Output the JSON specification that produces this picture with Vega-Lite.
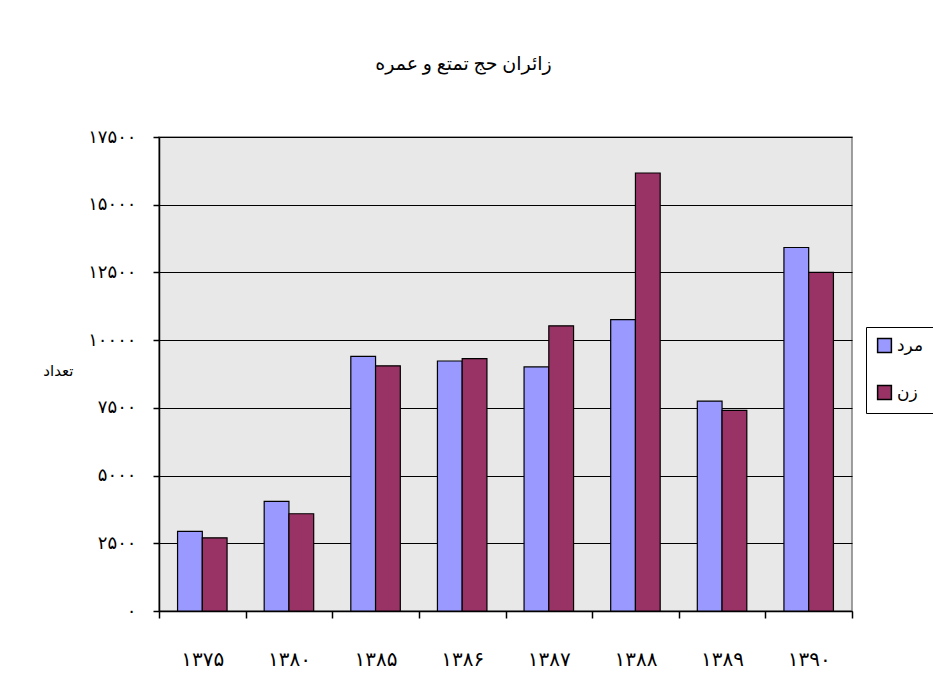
{
  "$schema": "https://vega.github.io/schema/vega-lite/v6.json",
  "autosize": "none",
  "width": 693,
  "height": 474,
  "padding": {"left": 159, "top": 137, "right": 81, "bottom": 78},
  "background": "white",
  "title": {
    "text": "زائران حج تمتع و عمره",
    "font": "Liberation Serif, DejaVu Sans",
    "fontSize": 19,
    "fontWeight": "normal",
    "color": "black",
    "anchor": "middle",
    "dx": -42,
    "offset": 54
  },
  "data": {
    "values": [
      {"year": "۱۳۷۵", "sex": "مرد", "count": 2940},
      {"year": "۱۳۷۵", "sex": "زن", "count": 2700},
      {"year": "۱۳۸۰", "sex": "مرد", "count": 4050},
      {"year": "۱۳۸۰", "sex": "زن", "count": 3590},
      {"year": "۱۳۸۵", "sex": "مرد", "count": 9400},
      {"year": "۱۳۸۵", "sex": "زن", "count": 9050},
      {"year": "۱۳۸۶", "sex": "مرد", "count": 9230},
      {"year": "۱۳۸۶", "sex": "زن", "count": 9320},
      {"year": "۱۳۸۷", "sex": "مرد", "count": 9010},
      {"year": "۱۳۸۷", "sex": "زن", "count": 10530},
      {"year": "۱۳۸۸", "sex": "مرد", "count": 10760},
      {"year": "۱۳۸۸", "sex": "زن", "count": 16170},
      {"year": "۱۳۸۹", "sex": "مرد", "count": 7750},
      {"year": "۱۳۸۹", "sex": "زن", "count": 7410},
      {"year": "۱۳۹۰", "sex": "مرد", "count": 13420},
      {"year": "۱۳۹۰", "sex": "زن", "count": 12500}
    ]
  },
  "mark": {"type": "bar", "stroke": "black", "strokeWidth": 1.2},
  "encoding": {
    "x": {
      "field": "year",
      "type": "nominal",
      "sort": null,
      "scale": {"paddingInner": 0, "paddingOuter": 0},
      "axis": {
        "title": null,
        "labelAngle": 0,
        "labelFont": "Liberation Serif, DejaVu Sans",
        "labelFontSize": 20,
        "labelFontWeight": "normal",
        "labelColor": "black",
        "labelPadding": 31,
        "tickBand": "extent",
        "tickSize": 7,
        "tickColor": "black",
        "tickWidth": 1.5,
        "domainColor": "black",
        "domainWidth": 1.5,
        "grid": false
      }
    },
    "xOffset": {
      "field": "sex",
      "type": "nominal",
      "sort": ["مرد", "زن"],
      "scale": {"paddingInner": 0, "paddingOuter": 0.75}
    },
    "y": {
      "field": "count",
      "type": "quantitative",
      "scale": {"domain": [0, 17500], "nice": false},
      "axis": {
        "values": [0, 2500, 5000, 7500, 10000, 12500, 15000, 17500],
        "labelExpr": "replace(replace(replace(replace(replace(format(datum.value, 'd'), regexp('0', 'g'), '۰'), regexp('1', 'g'), '۱'), regexp('2', 'g'), '۲'), regexp('5', 'g'), '۵'), regexp('7', 'g'), '۷')",
        "labelFont": "Liberation Serif, DejaVu Sans",
        "labelFontSize": 18,
        "labelFontWeight": "normal",
        "labelColor": "black",
        "labelPadding": 17,
        "tickSize": 6,
        "tickColor": "black",
        "tickWidth": 1.5,
        "domainColor": "black",
        "domainWidth": 1.5,
        "grid": true,
        "gridColor": "black",
        "gridWidth": 1.2,
        "title": "تعداد",
        "titleAngle": 0,
        "titleFont": "Liberation Serif, DejaVu Sans",
        "titleFontSize": 15,
        "titleFontWeight": "normal",
        "titleColor": "black",
        "titleAlign": "right",
        "titleBaseline": "middle",
        "titleX": -86,
        "titleY": 233
      }
    },
    "fill": {
      "field": "sex",
      "type": "nominal",
      "sort": ["مرد", "زن"],
      "scale": {"domain": ["مرد", "زن"], "range": ["#9999FF", "#993366"]},
      "legend": {
        "title": null,
        "orient": "none",
        "legendX": 707,
        "legendY": 190,
        "strokeColor": "black",
        "padding": 10,
        "symbolType": "square",
        "symbolSize": 190,
        "symbolStrokeColor": "black",
        "symbolStrokeWidth": 1.5,
        "labelFont": "Liberation Serif, DejaVu Sans",
        "labelFontSize": 17,
        "labelColor": "black",
        "rowPadding": 26,
        "labelOffset": 4
      }
    }
  },
  "config": {
    "view": {"fill": "#e8e8e8", "stroke": "#808080", "strokeWidth": 1.5}
  }
}
